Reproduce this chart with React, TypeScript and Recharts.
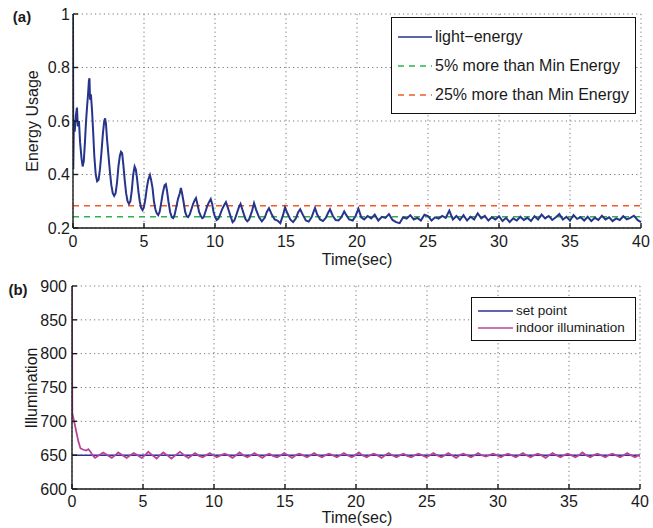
import React from "react";
import {
  LineChart,
  Line,
  XAxis,
  YAxis,
  CartesianGrid,
  ReferenceLine,
} from "recharts";

const TIME_TICKS = [0, 5, 10, 15, 20, 25, 30, 35, 40];
const ENERGY_TICKS = [0.2, 0.4, 0.6, 0.8, 1];
const ILLUM_TICKS = [600, 650, 700, 750, 800, 850, 900];

const MIN_PLUS_5 = 0.242;
const MIN_PLUS_25 = 0.283;
const SET_POINT = 650;

// light-energy usage, [time (s), value]
const energySamples: [number, number][] = [
  [0, 1.0], [0.02, 0.42], [0.06, 0.6], [0.12, 0.56], [0.2, 0.62], [0.28, 0.65], [0.34, 0.58],
  [0.42, 0.6], [0.5, 0.52], [0.6, 0.46], [0.68, 0.43], [0.76, 0.45], [0.84, 0.52], [0.92, 0.6],
  [1.0, 0.66], [1.06, 0.7], [1.12, 0.75], [1.16, 0.76], [1.2, 0.68], [1.26, 0.7], [1.34, 0.64],
  [1.42, 0.56], [1.5, 0.47], [1.6, 0.4], [1.7, 0.375], [1.8, 0.38], [1.9, 0.42], [2.0, 0.48],
  [2.1, 0.55], [2.2, 0.6], [2.26, 0.61], [2.32, 0.59], [2.4, 0.53], [2.5, 0.47], [2.6, 0.41],
  [2.7, 0.36], [2.8, 0.33], [2.9, 0.32], [3.0, 0.33], [3.1, 0.37], [3.2, 0.43], [3.3, 0.47],
  [3.38, 0.485], [3.46, 0.48], [3.54, 0.44], [3.64, 0.38], [3.74, 0.33], [3.84, 0.3], [3.94, 0.29],
  [4.04, 0.3], [4.14, 0.34], [4.24, 0.4], [4.34, 0.43], [4.42, 0.42], [4.5, 0.39], [4.6, 0.34],
  [4.7, 0.3], [4.8, 0.275], [4.9, 0.267], [5.0, 0.28], [5.1, 0.31], [5.2, 0.35], [5.3, 0.38],
  [5.42, 0.398], [5.5, 0.38], [5.6, 0.35], [5.7, 0.3], [5.8, 0.27], [5.9, 0.255], [6.0, 0.248],
  [6.1, 0.26], [6.2, 0.29], [6.32, 0.33], [6.45, 0.36], [6.54, 0.364], [6.62, 0.34], [6.72, 0.3],
  [6.84, 0.26], [6.96, 0.24], [7.06, 0.237], [7.16, 0.25], [7.28, 0.28], [7.4, 0.31], [7.52, 0.33],
  [7.6, 0.35], [7.68, 0.33], [7.78, 0.3], [7.9, 0.26], [8.0, 0.245], [8.1, 0.241], [8.22, 0.25],
  [8.34, 0.27], [8.46, 0.29], [8.58, 0.305], [8.66, 0.312], [8.76, 0.29], [8.88, 0.26], [9.0, 0.245],
  [9.1, 0.237], [9.2, 0.24], [9.32, 0.26], [9.44, 0.28], [9.56, 0.295], [9.7, 0.308], [9.8, 0.29],
  [9.9, 0.26], [10.0, 0.242], [10.12, 0.23], [10.24, 0.235], [10.36, 0.25], [10.5, 0.27],
  [10.64, 0.285], [10.77, 0.297], [10.88, 0.28], [11.0, 0.26], [11.12, 0.24], [11.24, 0.222],
  [11.36, 0.228], [11.48, 0.245], [11.6, 0.265], [11.7, 0.28], [11.8, 0.29], [11.92, 0.27],
  [12.04, 0.25], [12.16, 0.232], [12.28, 0.225], [12.4, 0.232], [12.6, 0.262], [12.75, 0.293],
  [12.9, 0.268], [13.1, 0.24], [13.3, 0.225], [13.5, 0.238], [13.65, 0.26], [13.8, 0.274],
  [14.0, 0.25], [14.2, 0.232], [14.4, 0.228], [14.6, 0.218], [14.8, 0.25], [14.93, 0.277],
  [15.1, 0.255], [15.3, 0.232], [15.5, 0.222], [15.7, 0.236], [15.85, 0.258], [16.0, 0.27],
  [16.2, 0.248], [16.4, 0.228], [16.6, 0.224], [16.8, 0.24], [17.04, 0.275], [17.2, 0.25],
  [17.4, 0.232], [17.6, 0.226], [17.8, 0.238], [17.95, 0.255], [18.1, 0.27], [18.3, 0.245],
  [18.5, 0.23], [18.7, 0.228], [18.9, 0.24], [19.1, 0.262], [19.25, 0.248], [19.45, 0.232],
  [19.7, 0.228], [19.9, 0.245], [20.1, 0.272], [20.3, 0.24], [20.5, 0.232], [20.75, 0.245],
  [21.0, 0.236], [21.25, 0.25], [21.5, 0.228], [21.75, 0.242], [22.0, 0.238], [22.25, 0.252],
  [22.5, 0.23], [22.75, 0.222], [23.0, 0.218], [23.25, 0.24], [23.5, 0.235], [23.75, 0.248],
  [24.0, 0.232], [24.25, 0.238], [24.5, 0.228], [24.75, 0.25], [25.0, 0.245], [25.25, 0.228],
  [25.5, 0.24], [25.75, 0.235], [26.0, 0.245], [26.25, 0.238], [26.5, 0.265], [26.75, 0.232],
  [27.0, 0.245], [27.25, 0.23], [27.5, 0.248], [27.75, 0.228], [28.0, 0.242], [28.25, 0.232],
  [28.5, 0.255], [28.75, 0.236], [29.0, 0.245], [29.25, 0.228], [29.5, 0.24], [29.75, 0.232],
  [30.0, 0.244], [30.25, 0.226], [30.5, 0.238], [30.75, 0.222], [31.0, 0.236], [31.25, 0.228],
  [31.5, 0.242], [31.75, 0.23], [32.0, 0.238], [32.25, 0.226], [32.5, 0.244], [32.75, 0.232],
  [33.0, 0.25], [33.25, 0.236], [33.5, 0.245], [33.75, 0.23], [34.0, 0.24], [34.25, 0.252],
  [34.5, 0.232], [34.75, 0.242], [35.0, 0.228], [35.25, 0.248], [35.5, 0.234], [35.75, 0.24],
  [36.0, 0.228], [36.25, 0.242], [36.5, 0.226], [36.75, 0.238], [37.0, 0.23], [37.25, 0.246],
  [37.5, 0.232], [37.75, 0.24], [38.0, 0.226], [38.25, 0.236], [38.5, 0.23], [38.75, 0.244],
  [39.0, 0.232], [39.25, 0.238], [39.5, 0.246], [39.75, 0.23], [40.0, 0.222],
];

// indoor illumination, [time (s), lux]
const illumSamples: [number, number][] = [
  [0, 900], [0.02, 712], [0.15, 700], [0.3, 685], [0.45, 670], [0.6, 660], [0.8, 658], [1.0, 657],
  [1.15, 659], [1.3, 655], [1.45, 650], [1.62, 646], [1.9, 650], [2.2, 654], [2.5, 650], [2.8, 646],
  [3.05, 650], [3.26, 654], [3.55, 650], [3.85, 646], [4.1, 650], [4.35, 653], [4.62, 650],
  [4.9, 646], [5.15, 650], [5.37, 655], [5.65, 650], [5.96, 645], [6.2, 650], [6.43, 654],
  [6.7, 650], [7.0, 645], [7.3, 650], [7.6, 655], [7.9, 650], [8.2, 646], [8.45, 650], [8.66, 653],
  [8.95, 649], [9.2, 647], [9.45, 650], [9.7, 653], [9.95, 650], [10.2, 647], [10.5, 650],
  [10.75, 652], [11.0, 650], [11.3, 646], [11.55, 650], [11.8, 654], [12.05, 650], [12.35, 647],
  [12.6, 650], [12.85, 653], [13.1, 650], [13.4, 646], [13.65, 650], [13.9, 652], [14.15, 649],
  [14.45, 647], [14.7, 650], [14.95, 653], [15.2, 650], [15.5, 646], [15.75, 650], [16.0, 652],
  [16.25, 650], [16.55, 647], [16.8, 650], [17.05, 653], [17.3, 650], [17.6, 647], [17.85, 650],
  [18.1, 652], [18.35, 650], [18.65, 647], [18.9, 650], [19.15, 653], [19.4, 650], [19.7, 647],
  [19.95, 650], [20.2, 654], [20.45, 650], [20.75, 647], [21.0, 650], [21.25, 652], [21.5, 650],
  [21.8, 646], [22.05, 650], [22.3, 653], [22.55, 650], [22.85, 647], [23.1, 650], [23.35, 652],
  [23.6, 649], [23.9, 647], [24.15, 650], [24.4, 652], [24.65, 650], [24.95, 647], [25.2, 650],
  [25.45, 653], [25.7, 650], [26.0, 647], [26.25, 650], [26.5, 653], [26.75, 650], [27.05, 646],
  [27.3, 650], [27.55, 652], [27.8, 650], [28.1, 647], [28.35, 650], [28.6, 653], [28.85, 650],
  [29.15, 648], [29.4, 650], [29.65, 652], [29.9, 650], [30.2, 647], [30.45, 650], [30.7, 652],
  [30.95, 650], [31.25, 647], [31.5, 650], [31.75, 653], [32.0, 650], [32.3, 647], [32.55, 650],
  [32.8, 652], [33.05, 650], [33.35, 646], [33.6, 650], [33.85, 653], [34.1, 650], [34.4, 647],
  [34.65, 650], [34.9, 652], [35.15, 650], [35.45, 647], [35.7, 650], [35.95, 654], [36.2, 650],
  [36.5, 647], [36.75, 650], [37.0, 652], [37.25, 650], [37.55, 647], [37.8, 650], [38.05, 652],
  [38.3, 650], [38.6, 647], [38.85, 650], [39.1, 653], [39.35, 650], [39.65, 647], [39.9, 650],
  [40, 648],
];

const FONT = "'Liberation Sans', Arial, Helvetica, sans-serif";
const NAVY = "#27348b";
const GREEN = "#2db34a";
const RED = "#f15a24";
const MAGENTA = "#b4449c";
const AXIS = "#1a1a1a";

const energyData = energySamples.map(([t, v]) => ({ t, v }));
const illumData = illumSamples.map(([t, v]) => ({ t, v }));

const tickStyle = { fill: "#1a1a1a", fontSize: 16, fontFamily: FONT };

function Legend({ left, top, width, rowH, fontSize, items }: any) {
  return (
    <div
      style={{
        position: "absolute",
        left,
        top,
        width,
        border: "1px solid #111",
        background: "#fff",
        padding: "4px 0",
        fontFamily: FONT,
        fontSize,
        color: "#1a1a1a",
      }}
    >
      {items.map((it: any) => (
        <div key={it.label} style={{ display: "flex", alignItems: "center", height: rowH }}>
          <svg width={it.sw + 10} height={6} style={{ marginLeft: 6, marginRight: 3 }}>
            <line
              x1={0}
              x2={it.sw}
              y1={3}
              y2={3}
              stroke={it.color}
              strokeWidth={1.5}
              strokeDasharray={it.dash}
            />
          </svg>
          <span style={{ marginLeft: -10 }}>{it.label}</span>
        </div>
      ))}
    </div>
  );
}

function Text({ x, y, children, rotate, size = 16, bold }: any) {
  return (
    <div
      style={{
        position: "absolute",
        left: x,
        top: y,
        transform: `translate(-50%, -50%)${rotate ? " rotate(-90deg)" : ""}`,
        fontFamily: FONT,
        fontSize: size,
        lineHeight: 1,
        fontWeight: bold ? "bold" : "normal",
        whiteSpace: "nowrap",
        color: "#1a1a1a",
      }}
    >
      {children}
    </div>
  );
}

export default function App() {
  return (
    <div style={{ position: "absolute", left: 0, top: 0, width: 653, height: 528, background: "#fff", overflow: "hidden" }}>
      {/* (a) energy usage */}
      <div style={{ position: "absolute", left: 0, top: 0 }}>
        <LineChart width={653} height={270} margin={{ top: 14, right: 12, bottom: 0, left: 26 }}>
          <CartesianGrid stroke="#777" strokeDasharray="1.2 3.2" />
          <XAxis
            dataKey="t"
            type="number"
            domain={[0, 40]}
            ticks={TIME_TICKS}
            height={42}
            tick={tickStyle}
            tickSize={-5}
            tickMargin={13}
            stroke={AXIS}
            strokeWidth={1.4}
            allowDataOverflow
          />
          <XAxis
            xAxisId="top"
            orientation="top"
            type="number"
            domain={[0, 40]}
            ticks={TIME_TICKS}
            height={0}
            tick={false}
            tickSize={-5}
            stroke={AXIS}
            strokeWidth={1.4}
          />
          <YAxis
            type="number"
            domain={[0.2, 1]}
            ticks={ENERGY_TICKS}
            width={47}
            tick={tickStyle}
            tickSize={-5}
            tickMargin={8}
            stroke={AXIS}
            strokeWidth={1.4}
            allowDataOverflow
          />
          <YAxis
            yAxisId="right"
            orientation="right"
            type="number"
            domain={[0.2, 1]}
            ticks={ENERGY_TICKS}
            width={0}
            tick={false}
            tickSize={-5}
            stroke={AXIS}
            strokeWidth={1.4}
          />
          <ReferenceLine y={MIN_PLUS_5} stroke={GREEN} strokeWidth={1.5} strokeDasharray="6 5" />
          <ReferenceLine y={MIN_PLUS_25} stroke={RED} strokeWidth={1.5} strokeDasharray="6 5" />
          <Line
            data={energyData}
            dataKey="v"
            type="linear"
            stroke={NAVY}
            strokeWidth={2}
            dot={false}
            isAnimationActive={false}
          />
        </LineChart>
      </div>

      {/* (b) illumination */}
      <div style={{ position: "absolute", left: 0, top: 270 }}>
        <LineChart width={653} height={258} margin={{ top: 16, right: 13, bottom: 0, left: 25 }}>
          <CartesianGrid stroke="#777" strokeDasharray="1.2 3.2" />
          <XAxis
            dataKey="t"
            type="number"
            domain={[0, 40]}
            ticks={TIME_TICKS}
            height={39}
            tick={tickStyle}
            tickSize={-5}
            tickMargin={12}
            stroke={AXIS}
            strokeWidth={1.4}
            allowDataOverflow
          />
          <XAxis
            xAxisId="top"
            orientation="top"
            type="number"
            domain={[0, 40]}
            ticks={TIME_TICKS}
            height={0}
            tick={false}
            tickSize={-5}
            stroke={AXIS}
            strokeWidth={1.4}
          />
          <YAxis
            type="number"
            domain={[600, 900]}
            ticks={ILLUM_TICKS}
            width={47}
            tick={tickStyle}
            tickSize={-5}
            tickMargin={10}
            stroke={AXIS}
            strokeWidth={1.4}
            allowDataOverflow
          />
          <YAxis
            yAxisId="right"
            orientation="right"
            type="number"
            domain={[600, 900]}
            ticks={ILLUM_TICKS}
            width={0}
            tick={false}
            tickSize={-5}
            stroke={AXIS}
            strokeWidth={1.4}
          />
          <ReferenceLine y={SET_POINT} stroke="#2e3192" strokeWidth={1.5} />
          <Line
            data={illumData}
            dataKey="v"
            type="linear"
            stroke={MAGENTA}
            strokeWidth={1.8}
            dot={false}
            isAnimationActive={false}
          />
        </LineChart>
      </div>

      <Text x={22} y={16} size={15} bold>(a)</Text>
      <Text x={18} y={289} size={15} bold>(b)</Text>
      <Text x={33} y={121} rotate>Energy Usage</Text>
      <Text x={32} y={388} rotate>Illumination</Text>
      <Text x={357} y={260}>Time(sec)</Text>
      <Text x={357} y={518}>Time(sec)</Text>

      <Legend
        left={391}
        top={17}
        width={243}
        rowH={29}
        fontSize={16}
        items={[
          { label: "light\u2212energy", color: NAVY, sw: 34 },
          { label: "5% more than Min Energy", color: GREEN, sw: 34, dash: "6 5" },
          { label: "25% more than Min Energy", color: RED, sw: 34, dash: "6 5" },
        ]}
      />
      <Legend
        left={471}
        top={297}
        width={163}
        rowH={17}
        fontSize={13.5}
        items={[
          { label: "set point", color: "#2e3192", sw: 35 },
          { label: "indoor illumination", color: MAGENTA, sw: 35 },
        ]}
      />
    </div>
  );
}
